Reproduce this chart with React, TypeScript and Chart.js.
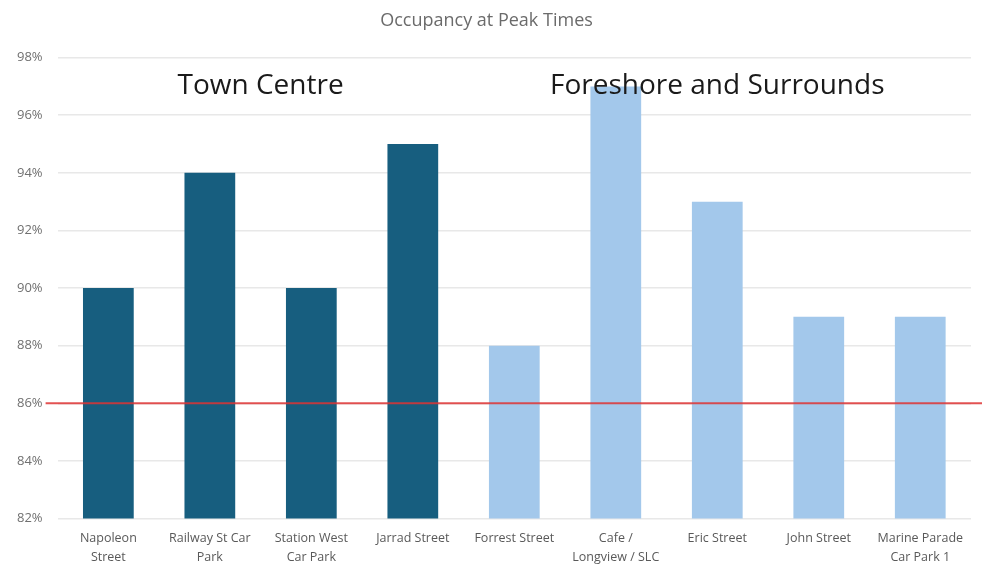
import React, { useEffect, useRef } from "react";
import { Chart, registerables } from "chart.js";

Chart.register(...registerables);

const categories: (string | string[])[] = [
  ["Napoleon", "Street"],
  ["Railway St Car", "Park"],
  ["Station West", "Car Park"],
  "Jarrad Street",
  "Forrest Street",
  ["Cafe /", "Longview / SLC"],
  "Eric Street",
  "John Street",
  ["Marine Parade", "Car Park 1"],
];
const occupancy = [90, 94, 90, 95, 88, 97, 93, 89, 89];
const groups = ["town", "town", "town", "town", "fore", "fore", "fore", "fore", "fore"];
const groupLabels = [
  { text: "Town Centre", at: 1.5, value: 97 },
  { text: "Foreshore and Surrounds", at: 6, value: 97 },
];
const threshold = 86;
const yMin = 82;
const yMax = 98;
const yStep = 2;
const title = "Occupancy at Peak Times";

const TOWN = "#175e7f";
const FORE = "#a3c8eb";
const FONT = "'Open Sans', 'Liberation Sans', sans-serif";

const overlayPlugin = {
  id: "overlay",
  afterDatasetsDraw(chart: any) {
    const { ctx, scales, chartArea } = chart;
    const y = scales.y;
    const x = scales.x;
    ctx.save();
    const ty = y.getPixelForValue(threshold);
    ctx.strokeStyle = "rgba(222, 52, 52, 0.85)";
    ctx.lineWidth = 2;
    ctx.beginPath();
    ctx.moveTo(chartArea.left - 12, ty);
    ctx.lineTo(chart.width, ty);
    ctx.stroke();
    ctx.fillStyle = "#1a1a1a";
    ctx.font = `28px ${FONT}`;
    ctx.textAlign = "center";
    ctx.textBaseline = "middle";
    for (const g of groupLabels) {
      ctx.fillText(g.text, x.getPixelForValue(g.at), y.getPixelForValue(g.value));
    }
    ctx.restore();
  },
};

export default function App() {
  const ref = useRef<HTMLCanvasElement>(null);
  useEffect(() => {
    document.body.style.margin = "0";
    const chart = new Chart(ref.current!, {
      type: "bar",
      data: {
        labels: categories,
        datasets: [
          {
            data: occupancy,
            backgroundColor: groups.map((g) => (g === "town" ? TOWN : FORE)),
            barPercentage: 0.5,
            categoryPercentage: 1,
          },
        ],
      },
      options: {
        animation: false,
        responsive: false,
        layout: { padding: { top: 10, right: 11, left: 2, bottom: -13 } },
        plugins: {
          legend: { display: false },
          tooltip: { enabled: false },
          title: {
            display: true,
            text: title,
            color: "#6b6b6b",
            font: { family: FONT, size: 18, weight: "normal" },
            padding: { top: 0, bottom: 26 },
          },
        },
        scales: {
          x: {
            grid: { display: false, drawTicks: false },
            border: { display: false },
            ticks: {
              color: "#595959",
              font: { family: FONT, size: 12.5, lineHeight: 1.5 },
              maxRotation: 0,
              autoSkip: false,
              padding: 11,
            },
          },
          y: {
            min: yMin,
            max: yMax,
            grid: { color: "#e8e8e8", drawTicks: false, lineWidth: 1.5 },
            border: { display: false },
            ticks: {
              stepSize: yStep,
              color: "#707070",
              padding: 15,
              font: { family: FONT, size: 13 },
              callback: (v: any) => `${v}%`,
            },
          },
        },
      },
      plugins: [overlayPlugin],
    });
    return () => chart.destroy();
  }, []);
  return (
    <div style={{ position: "absolute", left: 0, top: 0, width: 982, height: 565 }}>
      <canvas ref={ref} width={982} height={565} />
    </div>
  );
}
